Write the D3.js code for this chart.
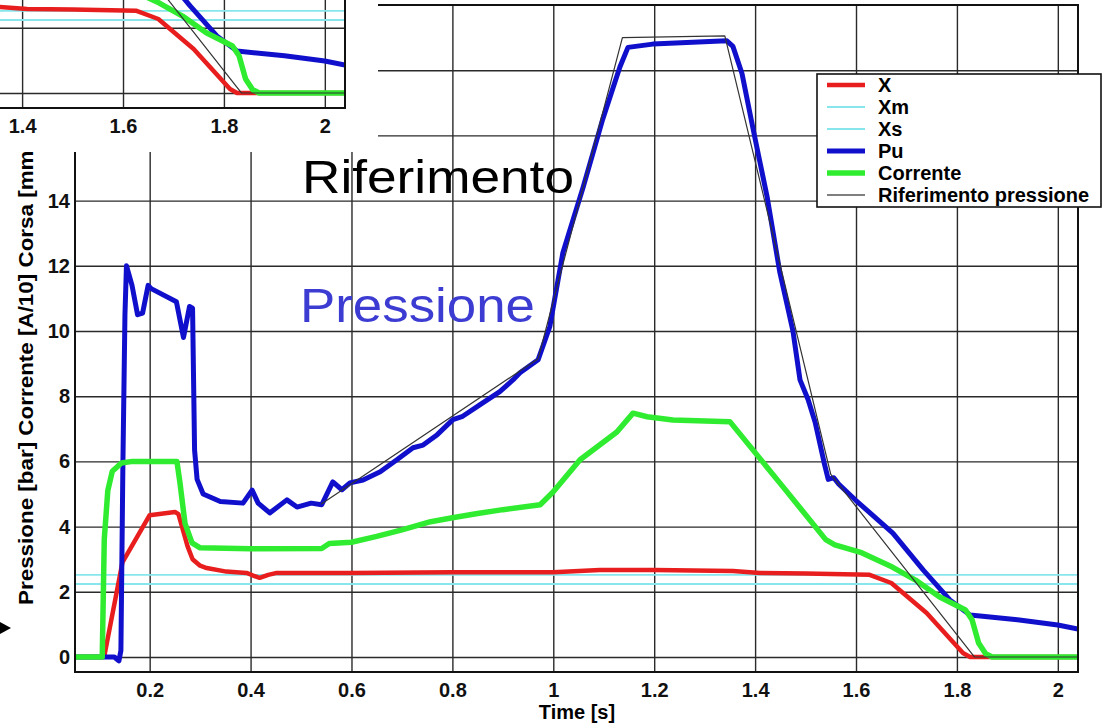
<!DOCTYPE html>
<html lang="it">

<head>
    <meta charset="UTF-8">
    <title>Pressione / Corrente / Corsa</title>
    <style>
        body {
            margin: 0;
            padding: 0;
            overflow: hidden;
            background-color: #ffffff;
        }

        svg {
            display: block;
            font-family: "Liberation Sans", Arial, Helvetica, sans-serif;
        }
    </style>
</head>

<body>
    <script src="https://d3js.org/d3.v7.min.js"></script>
    <script>
        // ---- data: [time s, value] ----
        const serieX = [[0.052, 0], [0.107, 0], [0.111, 0.1], [0.146, 2.9], [0.2, 4.35], [0.25, 4.45], [0.257, 4.38],
            [0.275, 3.4], [0.285, 3.0], [0.3, 2.8], [0.313, 2.73], [0.352, 2.62], [0.392, 2.58], [0.405, 2.5],
            [0.418, 2.43], [0.435, 2.52], [0.452, 2.58], [0.6, 2.58], [0.8, 2.6], [1.0, 2.6], [1.092, 2.67],
            [1.2, 2.67], [1.356, 2.64], [1.41, 2.58], [1.5, 2.56], [1.627, 2.52], [1.67, 2.27], [1.74, 1.35],
            [1.812, 0.12], [1.826, 0], [2.04, 0]];

        const serieXm = [[0.052, 2.52], [2.04, 2.52]];
        const serieXs = [[0.052, 2.24], [2.04, 2.24]];

        const seriePu = [[0.052, 0], [0.13, 0], [0.139, -0.12], [0.143, 0.2], [0.147, 6], [0.151, 10.5], [0.154, 12.0],
            [0.165, 11.4], [0.176, 10.5], [0.186, 10.55], [0.197, 11.4], [0.203, 11.3], [0.253, 10.9], [0.267, 9.8],
            [0.279, 10.75], [0.285, 10.7], [0.289, 6.35], [0.294, 5.45], [0.306, 5.0], [0.34, 4.77], [0.385, 4.72],
            [0.403, 5.12], [0.415, 4.72], [0.438, 4.42], [0.472, 4.82], [0.492, 4.6], [0.52, 4.72], [0.541, 4.67],
            [0.563, 5.37], [0.581, 5.13], [0.597, 5.34], [0.623, 5.43], [0.657, 5.68], [0.69, 6.05], [0.722, 6.42],
            [0.742, 6.5], [0.77, 6.82], [0.801, 7.28], [0.819, 7.37], [0.855, 7.74], [0.894, 8.14], [0.92, 8.5],
            [0.934, 8.72], [0.97, 9.12], [0.993, 10.13], [1.019, 12.4], [1.059, 14.4], [1.098, 16.5], [1.132, 18.1],
            [1.148, 18.7], [1.197, 18.8], [1.344, 18.9], [1.356, 18.73], [1.374, 17.9], [1.396, 16.2], [1.424, 14.1],
            [1.449, 11.8], [1.475, 10.0], [1.489, 8.5], [1.505, 7.9], [1.519, 7.2], [1.537, 5.95], [1.545, 5.45],
            [1.556, 5.5], [1.566, 5.3], [1.6, 4.8], [1.673, 3.8], [1.733, 2.67], [1.786, 1.75], [1.826, 1.29],
            [1.92, 1.14], [2.0, 0.98], [2.04, 0.86]];

        const serieCorrente = [[0.052, 0], [0.106, 0], [0.11, 3.6], [0.117, 5.1], [0.126, 5.7], [0.144, 5.95],
            [0.166, 6.0], [0.254, 6.0], [0.26, 5.35], [0.27, 4.1], [0.284, 3.5], [0.3, 3.35], [0.4, 3.32],
            [0.541, 3.33], [0.556, 3.48], [0.6, 3.52], [0.65, 3.7], [0.7, 3.9], [0.757, 4.15], [0.8, 4.27],
            [0.85, 4.4], [0.9, 4.52], [0.974, 4.67], [1.0, 5.07], [1.053, 6.05], [1.126, 6.9], [1.158, 7.48],
            [1.186, 7.37], [1.237, 7.27], [1.35, 7.22], [1.459, 5.15], [1.54, 3.6], [1.558, 3.44], [1.611, 3.2],
            [1.672, 2.76], [1.718, 2.36], [1.765, 1.85], [1.817, 1.44], [1.83, 1.14], [1.843, 0.43], [1.857, 0.1],
            [1.87, 0], [2.04, 0]];

        const serieRif = [[0.541, 4.7], [0.97, 9.15], [1.137, 19.0], [1.34, 19.05], [1.55, 5.6], [1.835, 0], [2.04, 0]];

        const xTicks = [0.2, 0.4, 0.6, 0.8, 1, 1.2, 1.4, 1.6, 1.8, 2];
        const xTickLabels = ["0.2", "0.4", "0.6", "0.8", "1", "1.2", "1.4", "1.6", "1.8", "2"];
        const yTicks = [0, 2, 4, 6, 8, 10, 12, 14, 16, 18];

        const legendLabels = ["X", "Xm", "Xs", "Pu", "Corrente", "Riferimento pressione"];

        // ---- layout ----
        const width = 1104, height = 723;
        const plotLeft = 75, plotRight = 1078, plotTop = 5, plotBottom = 672;
        // the close-up pasted top left is the same plot moved by this much
        const insetDx = -733, insetDy = -564, insetW = 378, insetH = 152;

        const x = d3.scaleLinear().domain([0.052, 2.04]).range([plotLeft, plotRight]);
        const y = d3.scaleLinear().domain([-0.46, 20]).range([plotBottom, plotTop]);

        const styles = [
            { data: serieXm, color: '#86e6ec', w: 1.8 },
            { data: serieXs, color: '#86e6ec', w: 1.8 },
            { data: serieX, color: '#e81e1e', w: 4.5 },
            { data: seriePu, color: '#1010cc', w: 5 },
            { data: serieCorrente, color: '#30ec30', w: 5.5 },
            { data: serieRif, color: '#333333', w: 1.2 }
        ];
        const legendStyle = [
            { color: '#e81e1e', w: 4.5 }, { color: '#86e6ec', w: 1.8 }, { color: '#86e6ec', w: 1.8 },
            { color: '#1010cc', w: 5 }, { color: '#30ec30', w: 5.5 }, { color: '#555555', w: 1.4 }
        ];

        const svg = d3.select('body').append('svg')
            .attr('width', width)
            .attr('height', height);

        svg.append('defs').append('clipPath').attr('id', 'plotClip')
            .append('rect')
            .attr('x', plotLeft).attr('y', plotTop)
            .attr('width', plotRight - plotLeft).attr('height', plotBottom - plotTop);

        const line = d3.line().x(d => x(d[0])).y(d => y(d[1]));

        function drawChart(g, isInset) {
            const xAxis = d3.axisBottom(x).tickValues(xTicks)
                .tickFormat((d, i) => xTickLabels[i])
                .tickSize(-(plotBottom - plotTop)).tickPadding(11);
            const yAxis = d3.axisLeft(y).tickValues(yTicks)
                .tickSize(-(plotRight - plotLeft)).tickPadding(5);

            const gx = g.append('g').attr('transform', `translate(0,${plotBottom})`).call(xAxis);
            const gy = g.append('g').attr('transform', `translate(${plotLeft},0)`).call(yAxis);

            [gx, gy].forEach(a => {
                a.select('.domain').remove();
                a.selectAll('line').attr('stroke', '#2a2a2a').attr('stroke-width', 1.4);
                a.selectAll('text').attr('fill', '#111').attr('font-size', 20)
                    .attr('font-weight', 'bold').attr('font-family', '"Liberation Sans", Arial, sans-serif');
            });

            if (isInset) {
                // only the labels that fall inside the pasted piece
                gy.selectAll('text').remove();
                gx.selectAll('.tick')
                    .filter(d => x(d) + insetDx < 15 || x(d) + insetDx > insetW - 15)
                    .select('text').remove();
            }

            const plot = g.append('g').attr('clip-path', 'url(#plotClip)');
            styles.forEach(s => {
                plot.append('path')
                    .datum(s.data)
                    .attr('d', line)
                    .attr('fill', 'none')
                    .attr('stroke', s.color)
                    .attr('stroke-width', s.w)
                    .attr('stroke-linejoin', 'round')
                    .attr('stroke-linecap', 'round');
            });

            g.append('rect')
                .attr('x', plotLeft).attr('y', plotTop)
                .attr('width', plotRight - plotLeft).attr('height', plotBottom - plotTop)
                .attr('fill', 'none').attr('stroke', '#111').attr('stroke-width', 2);

            if (!isInset) {
                g.append('text')
                    .attr('x', 577).attr('y', 719)
                    .attr('text-anchor', 'middle')
                    .attr('font-size', 20).attr('font-weight', 'bold')
                    .text('Time [s]');
            }
        }

        // main chart
        const main = svg.append('g');
        drawChart(main, false);

        svg.append('text')
            .attr('transform', 'translate(33,374) rotate(-90)')
            .attr('text-anchor', 'middle')
            .attr('font-size', 20).attr('font-weight', 'bold')
            .attr('textLength', 462).attr('lengthAdjust', 'spacingAndGlyphs')
            .text('Pressione [bar] Corrente [A/10] Corsa [mm]');

        svg.append('text')
            .attr('x', 302).attr('y', 193)
            .attr('font-size', 46).attr('fill', '#000')
            .attr('textLength', 272).attr('lengthAdjust', 'spacingAndGlyphs')
            .text('Riferimento');

        svg.append('text')
            .attr('x', 300).attr('y', 322)
            .attr('font-size', 48).attr('fill', '#3c3cd2')
            .attr('textLength', 235).attr('lengthAdjust', 'spacingAndGlyphs')
            .text('Pressione');

        // legend
        const legend = svg.append('g');
        legend.append('rect')
            .attr('x', 817).attr('y', 74).attr('width', 284).attr('height', 133)
            .attr('fill', '#fff').attr('stroke', '#111').attr('stroke-width', 1.6);
        legendLabels.forEach((name, i) => {
            const ly = 85 + i * 22;
            legend.append('line')
                .attr('x1', 827).attr('x2', 865).attr('y1', ly).attr('y2', ly)
                .attr('stroke', legendStyle[i].color).attr('stroke-width', legendStyle[i].w);
            legend.append('text')
                .attr('x', 878).attr('y', ly + 7)
                .attr('font-size', 20).attr('font-weight', 'bold')
                .text(name);
        });

        // arrow tip at left edge
        svg.append('path')
            .attr('d', d3.line()([[-2, 621], [11, 628], [-2, 635]]) + 'Z')
            .attr('fill', '#000');

        // pasted close-up at the top left
        svg.append('defs').append('clipPath').attr('id', 'insetClip')
            .append('rect').attr('x', 0).attr('y', 0).attr('width', insetW).attr('height', insetH);
        const insetOuter = svg.append('g').attr('clip-path', 'url(#insetClip)');
        insetOuter.append('rect').attr('x', 0).attr('y', 0)
            .attr('width', insetW).attr('height', insetH).attr('fill', '#fff');
        const inset = insetOuter.append('g').attr('transform', `translate(${insetDx},${insetDy})`);
        drawChart(inset, true);
    </script>
</body>

</html>
